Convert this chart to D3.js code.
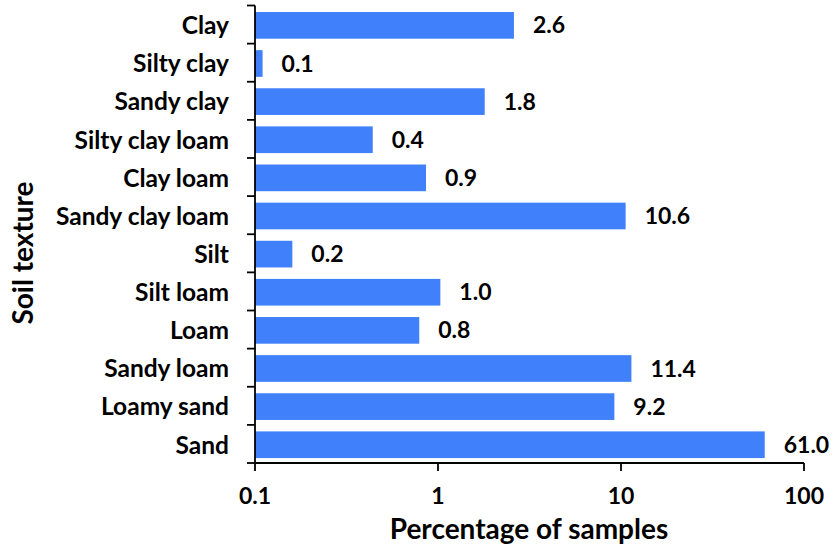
<!DOCTYPE html>
<html>
<head>
<meta charset="utf-8">
<script src="https://cdn.jsdelivr.net/npm/d3@7"></script>
<style>
  html, body { margin: 0; padding: 0; background: #ffffff; }
  svg text { font-family: Lato, "Open Sans", sans-serif; font-weight: 700; fill: #000; }
</style>
</head>
<body>
<svg id="chart" width="834" height="548"></svg>
<script>
const categories = ["Clay","Silty clay","Sandy clay","Silty clay loam","Clay loam","Sandy clay loam","Silt","Silt loam","Loam","Sandy loam","Loamy sand","Sand"];
const values = [2.6, 0.11, 1.8, 0.44, 0.86, 10.6, 0.16, 1.03, 0.79, 11.4, 9.2, 61.0];
const valueLabels = ["2.6","0.1","1.8","0.4","0.9","10.6","0.2","1.0","0.8","11.4","9.2","61.0"];
const xTicks = [0.1, 1, 10, 100];
const xTickLabels = ["0.1","1","10","100"];
const xTitle = "Percentage of samples";
const yTitle = "Soil texture";

const svg = d3.select("#chart");
const x = d3.scaleLog().domain([0.1, 100]).range([255, 804]);
const y = d3.scaleBand().domain(categories).range([5.5, 463]).padding(0);
const bw = y.bandwidth();
const bh = bw * 0.7;

// bars
svg.append("g").selectAll("rect").data(categories).join("rect")
  .attr("x", x(0.1))
  .attr("y", (d) => y(d) + (bw - bh) / 2 + 0.8)
  .attr("width", (d, i) => x(values[i]) - x(0.1))
  .attr("height", bh)
  .attr("fill", "#4081fb");

// value labels
svg.append("g").selectAll("text").data(categories).join("text")
  .attr("x", (d, i) => x(values[i]) + 19)
  .attr("y", (d) => y(d) + bw / 2 + 0.8)
  .attr("dy", "0.35em")
  .style("font-size", "23px")
  .text((d, i) => valueLabels[i]);

// y axis
const yAxisG = svg.append("g").attr("stroke", "#000").attr("stroke-width", 1.8).attr("fill", "none");
yAxisG.append("line").attr("x1", 255).attr("x2", 255).attr("y1", 5.5).attr("y2", 463);
const bounds = categories.map(c => y(c)).concat([463]);
yAxisG.selectAll("line.tk").data(bounds).join("line").attr("class", "tk")
  .attr("x1", 247).attr("x2", 255).attr("y1", d => d).attr("y2", d => d);

svg.append("g").selectAll("text").data(categories).join("text")
  .attr("x", 229)
  .attr("y", d => y(d) + bw / 2 + 1)
  .attr("dy", "0.35em")
  .attr("text-anchor", "end")
  .style("font-size", "24.5px")
  .text(d => d);

// x axis
const xAxisG = svg.append("g").attr("stroke", "#000").attr("stroke-width", 1.8).attr("fill", "none");
xAxisG.append("line").attr("x1", 254).attr("x2", 804).attr("y1", 463).attr("y2", 463);
xAxisG.selectAll("line.tk").data(xTicks).join("line").attr("class", "tk")
  .attr("x1", d => x(d)).attr("x2", d => x(d)).attr("y1", 463).attr("y2", 471);

svg.append("g").selectAll("text").data(xTicks).join("text")
  .attr("x", d => x(d))
  .attr("y", 504)
  .attr("text-anchor", "middle")
  .style("font-size", "23px")
  .text((d, i) => xTickLabels[i]);

svg.append("text")
  .attr("x", 529).attr("y", 539)
  .attr("text-anchor", "middle")
  .style("font-size", "28px")
  .text(xTitle);

svg.append("text")
  .attr("transform", "translate(33,253) rotate(-90)")
  .attr("text-anchor", "middle")
  .style("font-size", "28px")
  .text(yTitle);
</script>
</body>
</html>
